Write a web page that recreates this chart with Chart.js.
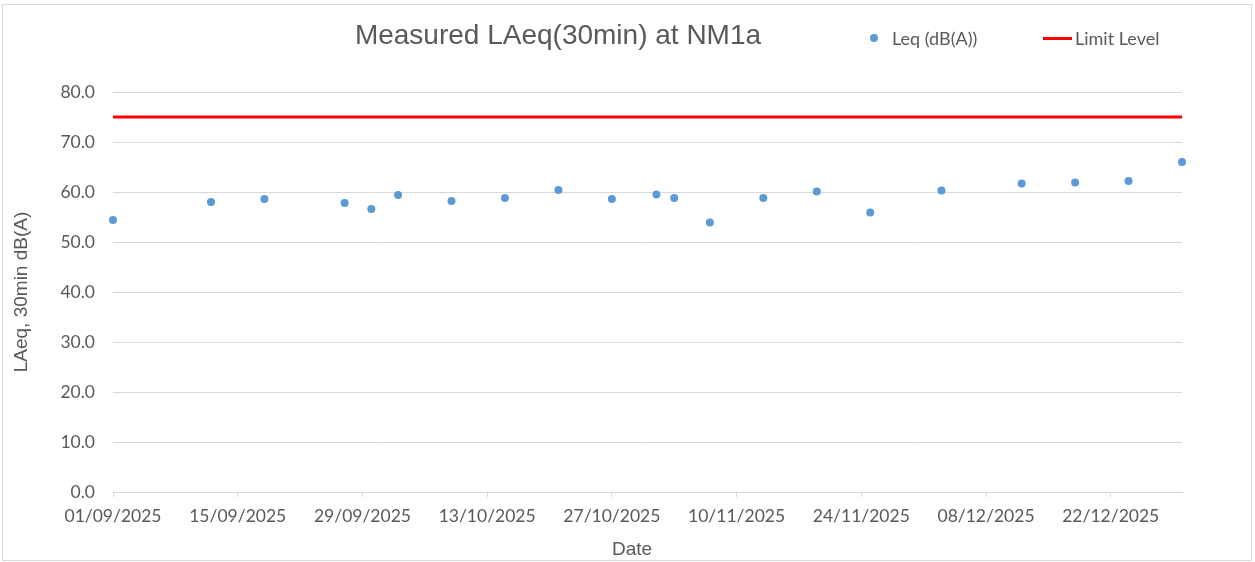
<!DOCTYPE html>
<html>
<head>
<meta charset="utf-8">
<script src="https://cdn.jsdelivr.net/npm/chart.js@4.4.1/dist/chart.umd.min.js"></script>
<style>
  html, body { margin: 0; padding: 0; background: #fff; }
  #wrap { position: relative; width: 1255px; height: 562px; overflow: hidden; background: #fff; }
  #c { position: absolute; left: 0; top: 0; }
  #frame { position: absolute; left: 2px; top: 4px; width: 1250px; height: 557px; border: 1px solid #d9d9d9; box-sizing: border-box; pointer-events: none; }
  #title { position: absolute; left: 0; top: 21px; width: 1116px; text-align: center; font: 28px/28px "Liberation Sans", Arial, sans-serif; color: #595959; white-space: nowrap; }
  #xtitle { position: absolute; left: 532px; top: 538.5px; width: 200px; text-align: center; font: 19px/19px "Liberation Sans", Arial, sans-serif; color: #595959; white-space: nowrap; }
  .lg-text { position: absolute; top: 29px; font: 18px/18px Lato, "Open Sans", sans-serif; color: #595959; white-space: nowrap; }
  .lg-dot { position: absolute; width: 8px; height: 8px; border-radius: 50%; }
  .lg-line { position: absolute; height: 3px; }
</style>
</head>
<body>
<div id="wrap">
  <canvas id="c" width="1255" height="562"></canvas>
  <div id="title"></div>
  <div id="xtitle"></div>
  <div id="legend"></div>
  <div id="frame"></div>
</div>
<script>
// ---- data ----
const chartTitle = 'Measured LAeq(30min) at NM1a';
const startDate = '2025-09-01';
const endDate = '2025-12-30';
const measureDates = [
  '2025-09-01', '2025-09-12', '2025-09-18', '2025-09-27', '2025-09-30', '2025-10-03',
  '2025-10-09', '2025-10-15', '2025-10-21', '2025-10-27', '2025-11-01', '2025-11-03',
  '2025-11-07', '2025-11-13', '2025-11-19', '2025-11-25', '2025-12-03', '2025-12-12',
  '2025-12-18', '2025-12-24', '2025-12-30'
];
const leqValues = [
  54.4, 58.0, 58.6, 57.8, 56.6, 59.4,
  58.2, 58.8, 60.4, 58.6, 59.5, 58.8,
  53.9, 58.8, 60.1, 55.9, 60.3, 61.7,
  61.9, 62.2, 66.0
];
const limitDates = ['2025-09-01', '2025-12-30'];
const limitValues = [75, 75];
const xTickLabels = [
  '01/09/2025', '15/09/2025', '29/09/2025', '13/10/2025', '27/10/2025',
  '10/11/2025', '24/11/2025', '08/12/2025', '22/12/2025'
];
const yMin = 0, yMax = 80, yStep = 10;
const seriesLabels = ['Leq (dB(A))', 'Limit Level'];
const xAxisTitle = 'Date';
const yAxisTitle = 'LAeq, 30min dB(A)';

// ---- helpers ----
const DAY = 86400000;
function dayNum(iso) { return (Date.parse(iso + 'T00:00:00Z') - Date.parse(startDate + 'T00:00:00Z')) / DAY; }
function dmyToDay(s) { const [d, m, y] = s.split('/'); return dayNum(`${y}-${m}-${d}`); }
function dayToDmy(v) {
  const dt = new Date(Date.parse(startDate + 'T00:00:00Z') + Math.round(v) * DAY);
  const dd = String(dt.getUTCDate()).padStart(2, '0');
  const mm = String(dt.getUTCMonth() + 1).padStart(2, '0');
  return `${dd}/${mm}/${dt.getUTCFullYear()}`;
}

const TEXT = '#595959';
const GRID = '#d9d9d9';
const BLUE = '#5b9bd5';
const RED = '#ff0000';
const tickFont = { family: 'Lato, "Open Sans", sans-serif', size: 17.5 };
const titleFont = { family: '"Liberation Sans", Arial, sans-serif', size: 19 };

document.getElementById('title').textContent = chartTitle;
document.getElementById('xtitle').textContent = xAxisTitle;

// HTML legend
const lg = document.getElementById('legend');
lg.innerHTML =
  `<div class="lg-dot" style="left:870px;top:34px;background:${BLUE}"></div>` +
  `<div class="lg-text" style="left:892px">${seriesLabels[0]}</div>` +
  `<div class="lg-line" style="left:1043px;top:37px;width:29px;background:${RED}"></div>` +
  `<div class="lg-text" style="left:1075px">${seriesLabels[1]}</div>`;

new Chart(document.getElementById('c'), {
  type: 'scatter',
  data: {
    datasets: [
      {
        label: seriesLabels[0],
        data: measureDates.map((d, i) => ({ x: dayNum(d), y: leqValues[i] })),
        backgroundColor: BLUE,
        borderColor: BLUE,
        borderWidth: 0,
        pointRadius: 4,
        pointHoverRadius: 4,
        clip: false,
        order: 1
      },
      {
        label: seriesLabels[1],
        data: limitDates.map((d, i) => ({ x: dayNum(d), y: limitValues[i] })),
        showLine: true,
        borderColor: RED,
        backgroundColor: RED,
        borderWidth: 3,
        pointRadius: 0,
        pointHoverRadius: 0,
        clip: false,
        order: 2
      }
    ]
  },
  options: {
    responsive: false,
    animation: false,
    events: [],
    layout: { padding: { top: 92, right: 73, bottom: 0, left: 0 } },
    plugins: {
      legend: { display: false },
      title: { display: false },
      tooltip: { enabled: false }
    },
    scales: {
      x: {
        type: 'linear',
        min: dayNum(startDate),
        max: dayNum(endDate),
        afterFit: (s) => { s.height = 70; },
        afterBuildTicks: (s) => { s.ticks = xTickLabels.map(l => ({ value: dmyToDay(l) })); },
        grid: { display: true, drawOnChartArea: false, drawTicks: true, tickLength: 5, color: GRID, lineWidth: 1 },
        border: { display: true, color: GRID, width: 1 },
        ticks: { color: TEXT, font: tickFont, padding: 9, maxRotation: 0, autoSkip: false, callback: (v) => dayToDmy(v) },
        title: { display: false }
      },
      y: {
        min: yMin,
        max: yMax,
        afterFit: (s) => { s.width = 113; },
        grid: { color: GRID, lineWidth: 1, drawTicks: false },
        border: { display: false },
        ticks: { stepSize: yStep, color: TEXT, font: tickFont, padding: 18, callback: (v) => Number(v).toFixed(1) },
        title: { display: true, text: yAxisTitle, color: TEXT, font: titleFont, padding: { top: 10, bottom: 0 } }
      }
    }
  }
});
</script>
</body>
</html>
